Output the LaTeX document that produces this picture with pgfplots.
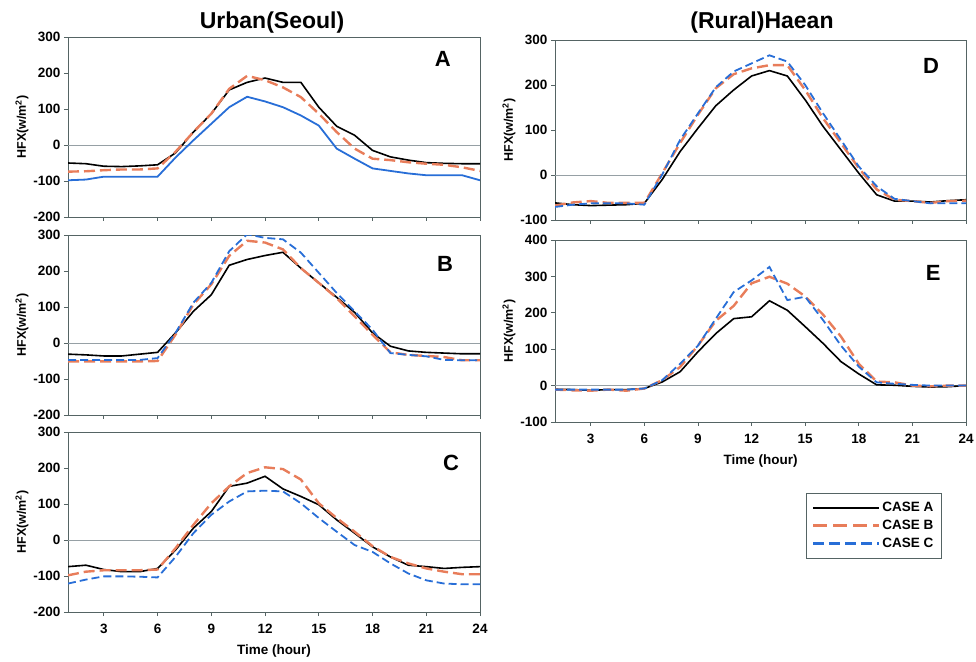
\documentclass[border=0pt]{standalone}
\usepackage{fontspec}
\setmainfont{Liberation Sans}
\usepackage{pgfplots}
\usepackage{pgfplotstable}
\pgfplotsset{compat=1.18}
\definecolor{orangeB}{RGB}{232,125,90}
\definecolor{blueC}{RGB}{40,110,215}
\definecolor{framegray}{RGB}{85,100,100}
\definecolor{zerogray}{RGB}{150,160,165}

% hourly HFX, columns: hour, CASE A, CASE B, CASE C
\pgfplotstableread{
h A B C
1 -50 -74 -98
2 -52 -73 -96
3 -59 -70 -88
4 -60 -68 -88
5 -58 -68 -88
6 -55 -65 -88
7 -22 -19 -35
8 36 36 13
9 87 87 59
10 153 156 105
11 174 192 134
12 186 180 121
13 174 160 105
14 174 133 82
15 105 87 54
16 52 36 -10
17 27 -10 -38
18 -15 -38 -65
19 -33 -42 -72
20 -42 -48 -79
21 -49 -52 -84
22 -51 -55 -84
23 -52 -62 -84
24 -52 -72 -98
}\panelA
\pgfplotstableread{
h A B C
1 -31 -51 -47
2 -33 -51 -47
3 -36 -51 -47
4 -36 -51 -47
5 -31 -51 -47
6 -26 -50 -42
7 28 23 28
8 88 107 112
9 134 163 167
10 216 242 255
11 232 284 302
12 243 279 292
13 252 260 288
14 208 208 251
15 167 167 195
16 127 125 139
17 85 74 88
18 28 23 37
19 -9 -26 -28
20 -22 -33 -33
21 -26 -36 -37
22 -28 -39 -47
23 -30 -48 -48
24 -30 -48 -48
}\panelB
\pgfplotstableread{
h A B C
1 -74 -98 -121
2 -70 -88 -110
3 -82 -84 -101
4 -88 -84 -101
5 -88 -84 -102
6 -79 -82 -104
7 -28 -23 -47
8 33 42 19
9 79 102 70
10 149 149 107
11 158 186 135
12 177 202 137
13 142 197 135
14 121 168 102
15 98 102 61
16 56 61 23
17 19 23 -14
18 -19 -17 -33
19 -47 -47 -65
20 -70 -65 -93
21 -74 -79 -112
22 -79 -88 -121
23 -76 -95 -123
24 -74 -95 -123
}\panelC
\pgfplotstableread{
h A B C
1 -62 -68 -71
2 -66 -61 -66
3 -68 -58 -63
4 -67 -62 -63
5 -66 -62 -63
6 -63 -62 -66
7 -10 4 1
8 52 71 78
9 104 134 137
10 154 193 195
11 189 224 230
12 220 237 248
13 232 244 266
14 220 244 252
15 167 189 200
16 108 126 137
17 56 71 78
18 4 15 19
19 -44 -32 -25
20 -58 -55 -53
21 -58 -58 -58
22 -60 -62 -63
23 -57 -58 -63
24 -55 -57 -63
}\panelD
\pgfplotstableread{
h A B C
1 -10 -11 -11
2 -11 -13 -11
3 -13 -14 -11
4 -11 -11 -11
5 -11 -14 -11
6 -8 -8 -8
7 10 15 15
8 38 51 60
9 93 110 110
10 143 178 184
11 184 219 257
12 189 281 289
13 233 299 326
14 207 280 235
15 162 245 244
16 116 195 180
17 66 135 110
18 32 60 52
19 2 11 9
20 1 9 5
21 -2 0 2
22 -4 -2 0
23 -3 0 0
24 0 0 0
}\panelE

\tikzset{
  styA/.style={black, line width=1.6pt},
  styB/.style={orangeB, line width=2.4pt, dash pattern=on 11pt off 5pt},
  styC/.style={blueC, line width=1.8pt, dash pattern=on 8pt off 4pt},
  letter/.style={font=\bfseries\fontsize{22}{24}\selectfont},
}
\pgfplotsset{
  hfx/.style={
    scale only axis,
    width=412pt, height=180pt,
    xmin=1, xmax=24,
    xtick={3,6,...,24},
    axis line style={framegray, line width=0.9pt},
    tick style={framegray, line width=0.8pt},
    tick align=outside,
    major tick length=4pt,
    xtick pos=left, ytick pos=left,
    tick label style={font=\bfseries\fontsize{13.5}{15}\selectfont},
    xticklabel style={yshift=-5pt},
    /pgf/number format/assume math mode=true,
    ylabel={HFX(w/m\textsuperscript{2})},
    ylabel style={font=\bfseries\fontsize{12.5}{14}\selectfont, yshift=-2pt},
    xlabel style={font=\bfseries\fontsize{13.5}{15}\selectfont, yshift=-4pt},
    every axis plot/.append style={no markers},
  },
}

\begin{document}
\begin{tikzpicture}
\path[use as bounding box] (0,0) rectangle (976pt,661pt);

\node[font=\bfseries\fontsize{23}{26}\selectfont] at (272pt,638pt) {Urban(Seoul)};
\node[font=\bfseries\fontsize{23}{26}\selectfont] at (762pt,638pt) {(Rural)Haean};

% A
\begin{axis}[hfx, at={(68pt,444pt)}, anchor=south west,
  ymin=-200, ymax=300, ytick={-200,-100,...,300}, xticklabels={}]
\draw[zerogray, line width=0.7pt] (axis cs:1,0) -- (axis cs:24,0);
\addplot[styA] table[x=h,y=A]{\panelA};
\addplot[styB] table[x=h,y=B]{\panelA};
\addplot[styC, solid] table[x=h,y=C]{\panelA};
\node[letter] at (rel axis cs:0.91,0.88) {A};
\end{axis}

% B
\begin{axis}[hfx, at={(68pt,246pt)}, anchor=south west,
  ymin=-200, ymax=300, ytick={-200,-100,...,300}, xticklabels={}]
\draw[zerogray, line width=0.7pt] (axis cs:1,0) -- (axis cs:24,0);
\addplot[styA] table[x=h,y=A]{\panelB};
\addplot[styB] table[x=h,y=B]{\panelB};
\addplot[styC] table[x=h,y=C]{\panelB};
\node[letter] at (rel axis cs:0.915,0.84) {B};
\end{axis}

% C
\begin{axis}[hfx, at={(68pt,49pt)}, anchor=south west,
  ymin=-200, ymax=300, ytick={-200,-100,...,300}, xlabel={Time (hour)}]
\draw[zerogray, line width=0.7pt] (axis cs:1,0) -- (axis cs:24,0);
\addplot[styA] table[x=h,y=A]{\panelC};
\addplot[styB] table[x=h,y=B]{\panelC};
\addplot[styC] table[x=h,y=C]{\panelC};
\node[letter] at (rel axis cs:0.93,0.83) {C};
\end{axis}

% D
\begin{axis}[hfx, at={(555pt,441pt)}, anchor=south west, width=411pt,
  ymin=-100, ymax=300, ytick={-100,0,...,300}, xticklabels={}]
\draw[zerogray, line width=0.7pt] (axis cs:1,0) -- (axis cs:24,0);
\addplot[styA] table[x=h,y=A]{\panelD};
\addplot[styB] table[x=h,y=B]{\panelD};
\addplot[styC] table[x=h,y=C]{\panelD};
\node[letter] at (rel axis cs:0.915,0.855) {D};
\end{axis}

% E
\begin{axis}[hfx, at={(555pt,239pt)}, anchor=south west, width=411pt, height=182pt,
  ymin=-100, ymax=400, ytick={-100,0,...,400}, xlabel={Time (hour)},
  legend style={at={(0.61,-0.39)}, anchor=north west, draw=framegray,
    font=\bfseries\fontsize{13.5}{15}\selectfont,
    inner xsep=6pt, inner ysep=7pt, row sep=3pt},
  legend cell align=left,
  legend image code/.code={\draw[#1] (0pt,0pt) -- (66pt,0pt);}]
\draw[zerogray, line width=0.7pt] (axis cs:1,0) -- (axis cs:24,0);
\addplot[styA, forget plot] table[x=h,y=A]{\panelE};
\addplot[styB, forget plot] table[x=h,y=B]{\panelE};
\addplot[styC, forget plot] table[x=h,y=C]{\panelE};
\addlegendimage{draw=black, line width=2pt}
\addlegendentry{CASE A}
\addlegendimage{draw=orangeB, line width=2.4pt, dash pattern=on 14pt off 6pt}
\addlegendentry{CASE B}
\addlegendimage{draw=blueC, line width=2.2pt, dash pattern=on 11pt off 5pt}
\addlegendentry{CASE C}
\node[letter] at (rel axis cs:0.92,0.82) {E};
\end{axis}
\end{tikzpicture}
\end{document}
